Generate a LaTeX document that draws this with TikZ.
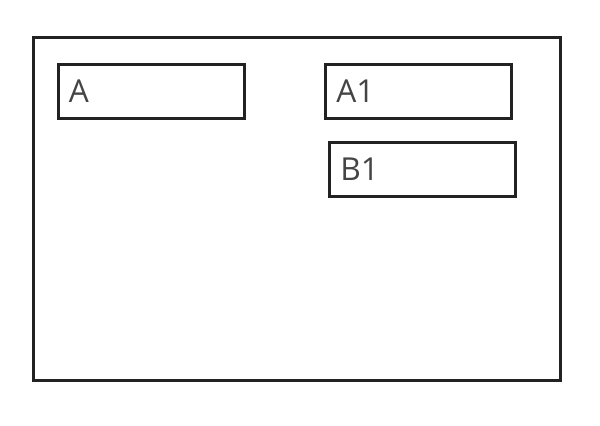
\documentclass[tikz,border=0pt]{standalone}
\usepackage{fontspec}
\setmainfont{Open Sans}
\definecolor{labelgray}{HTML}{444444}
\definecolor{linegray}{HTML}{222222}
\begin{document}
\begin{tikzpicture}
            \useasboundingbox (0.000000,0.000000) rectangle (15.000000,10.650000);
            \tikzset{itembox/.style={draw=linegray, line width=0.075cm, minimum width=4.650000cm, minimum height=1.350000cm, inner sep=0pt},
                     itemlabel/.style={anchor=west, inner sep=0pt, text=labelgray, font=\fontsize{22.5}{26}\selectfont}}
            
            % Drawing outer frame
            \node [draw=linegray, line width=0.075cm, minimum width=13.175000cm, minimum height=8.575000cm, inner sep=0pt] (frame) at (7.412500,5.412500) {};%
            
            % Marking box A
            \node [itembox] (boxA) at (3.775000,8.350000) {};%
            \node [itemlabel] (labA) at ([xshift=0.300000cm,yshift=0.030000cm]boxA.west) {A};%
            
            % Marking box A1
            \node [itembox] (boxAone) at (10.462500,8.350000) {};%
            \node [itemlabel] (labAone) at ([xshift=0.300000cm,yshift=0.030000cm]boxAone.west) {A1};%
            
            % Marking box B1
            \node [itembox] (boxBone) at (10.562500,6.400000) {};%
            \node [itemlabel] (labBone) at ([xshift=0.300000cm,yshift=0.030000cm]boxBone.west) {B1};%
        \end{tikzpicture}
\end{document}
